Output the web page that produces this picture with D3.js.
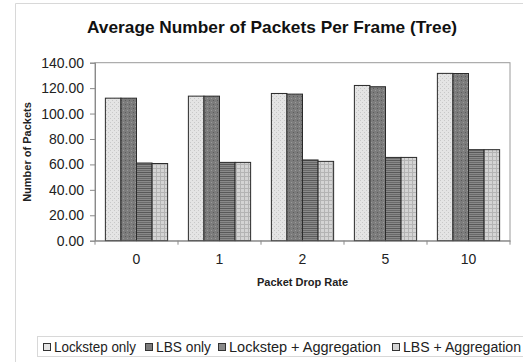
<!DOCTYPE html>
<html><head><meta charset="utf-8">
<script src="https://cdn.jsdelivr.net/npm/d3@7"></script>
<style>
html,body{margin:0;padding:0;background:#fff;}
svg{display:block;font-family:"Liberation Sans",Arial,sans-serif;}
</style></head>
<body>
<svg id="c" width="523" height="362"></svg>
<script>
const categories = ["0", "1", "2", "5", "10"];
const seriesNames = ["Lockstep only", "LBS only", "Lockstep + Aggregation", "LBS + Aggregation"];
const lockstepOnly = [112.1, 113.7, 115.8, 122.1, 131.6];
const lbsOnly = [112.1, 113.7, 115.3, 121.1, 131.5];
const lockstepAgg = [61.1, 61.6, 63.5, 65.5, 71.6];
const lbsAgg = [60.7, 61.6, 62.4, 65.5, 71.6];
const yTicks = [0, 20, 40, 60, 80, 100, 120, 140];

const seriesValues = [lockstepOnly, lbsOnly, lockstepAgg, lbsAgg];
const svg = d3.select("#c");

// patterns
const defs = svg.append("defs");
function pat(id, bg, draw) {
  const p = defs.append("pattern").attr("id", id).attr("patternUnits", "userSpaceOnUse")
    .attr("width", 4).attr("height", 4);
  p.append("rect").attr("width", 4).attr("height", 4).attr("fill", bg);
  draw(p);
}
pat("p0", "#e4e4e4", p => {
  p.append("rect").attr("x", 0).attr("y", 0).attr("width", 1).attr("height", 1).attr("fill", "#c8c8c8");
  p.append("rect").attr("x", 2).attr("y", 2).attr("width", 1).attr("height", 1).attr("fill", "#c8c8c8");
});
pat("p1", "#7c7c7c", p => {
  p.append("rect").attr("x", 1).attr("y", 0).attr("width", 1).attr("height", 1).attr("fill", "#5c5c5c");
  p.append("rect").attr("x", 3).attr("y", 2).attr("width", 1).attr("height", 1).attr("fill", "#9a9a9a");
});
pat("p2", "#8a8a8a", p => {
  p.append("rect").attr("x", 0).attr("y", 0).attr("width", 4).attr("height", 1).attr("fill", "#585858");
  p.append("rect").attr("x", 0).attr("y", 2).attr("width", 4).attr("height", 1).attr("fill", "#6a6a6a");
});
pat("p3", "#d4d4d4", p => {
  p.append("rect").attr("x", 0).attr("y", 0).attr("width", 4).attr("height", 1).attr("fill", "#b4b4b4");
  p.append("rect").attr("x", 0).attr("y", 0).attr("width", 1).attr("height", 4).attr("fill", "#b4b4b4");
});
const fills = ["url(#p0)", "url(#p1)", "url(#p2)", "url(#p3)"];
const legendFills = ["#e4e4e4", "#7c7c7c", "#8a8a8a", "#d4d4d4"];

// outer chart border
svg.append("path").attr("d", "M15.5,362 L15.5,3.5 L523,3.5").attr("fill", "none").attr("stroke", "#d8d8d8");

const L = 95, R = 510, T = 62.7, B = 240.7;
const x0 = d3.scaleBand().domain(categories).range([L, R]).padding(0);
const groupW = x0.bandwidth() * 0.75;
const x1 = d3.scaleBand().domain(d3.range(4)).range([0, groupW]).padding(0);
const y = d3.scaleLinear().domain([0, 140]).range([B, T]);

// title
svg.append("text").attr("x", 272).attr("y", 33).attr("text-anchor", "middle")
  .attr("font-weight", "bold").attr("font-size", 16.5).attr("fill", "#111")
  .attr("textLength", 370).attr("lengthAdjust", "spacingAndGlyphs")
  .text("Average Number of Packets Per Frame (Tree)");

// plot frame
svg.append("rect").attr("x", L).attr("y", T).attr("width", R - L).attr("height", B - T)
  .attr("fill", "none").attr("stroke", "#9a9a9a");

// bars
const g = svg.append("g");
categories.forEach((c, i) => {
  seriesValues.forEach((vals, s) => {
    g.append("rect")
      .attr("x", x0(c) + (x0.bandwidth() - groupW) / 2 + x1(s))
      .attr("y", y(vals[i]))
      .attr("width", x1.bandwidth())
      .attr("height", B - y(vals[i]))
      .attr("fill", fills[s]).attr("stroke", "#2a2a2a").attr("stroke-width", 1);
  });
});

// y axis
const yAxis = svg.append("g").attr("transform", `translate(${L},0)`)
  .call(d3.axisLeft(y).tickValues(yTicks).tickFormat(d3.format(".2f")).tickSize(5).tickPadding(6));
yAxis.select(".domain").attr("stroke", "#8a8a8a");
yAxis.selectAll(".tick line").attr("stroke", "#8a8a8a");
yAxis.selectAll("text").attr("font-size", 14).attr("fill", "#222").attr("font-family", "Liberation Sans, Arial, sans-serif");

// x axis
const xAxis = svg.append("g").attr("transform", `translate(0,${B})`)
  .call(d3.axisBottom(x0).tickSize(0).tickPadding(13));
xAxis.select(".domain").attr("stroke", "#8a8a8a");
xAxis.selectAll("text").attr("font-size", 14).attr("fill", "#222").attr("font-family", "Liberation Sans, Arial, sans-serif");
// boundary tick marks
const bounds = categories.map(c => x0(c)).concat([R]);
svg.append("g").selectAll("line").data(bounds).join("line")
  .attr("x1", d => d).attr("x2", d => d).attr("y1", B).attr("y2", B + 4)
  .attr("stroke", "#8a8a8a");

// axis titles
svg.append("text").attr("transform", `translate(31,152) rotate(-90)`).attr("text-anchor", "middle")
  .attr("font-weight", "bold").attr("font-size", 11).attr("fill", "#222").text("Number of Packets");
svg.append("text").attr("x", (L + R) / 2).attr("y", 285.5).attr("text-anchor", "middle")
  .attr("font-weight", "bold").attr("font-size", 11).attr("fill", "#222").text("Packet Drop Rate");

// legend
svg.append("rect").attr("x", 37.5).attr("y", 336.5).attr("width", 500).attr("height", 20)
  .attr("fill", "#fff").attr("stroke", "#d8d8d8");
const legendTextX = [54, 156, 229, 403];
const legendW = [82, 55, 152, 118];
const lg = svg.append("g");
seriesNames.forEach((n, i) => {
  lg.append("rect").attr("x", legendTextX[i] - 10.5).attr("y", 343.5).attr("width", 7).attr("height", 7)
    .attr("fill", legendFills[i]).attr("stroke", "#333");
  lg.append("text").attr("x", legendTextX[i]).attr("y", 351.5).attr("font-size", 14)
    .attr("textLength", legendW[i]).attr("lengthAdjust", "spacingAndGlyphs")
    .attr("fill", "#222").text(n);
});
</script>
</body></html>
